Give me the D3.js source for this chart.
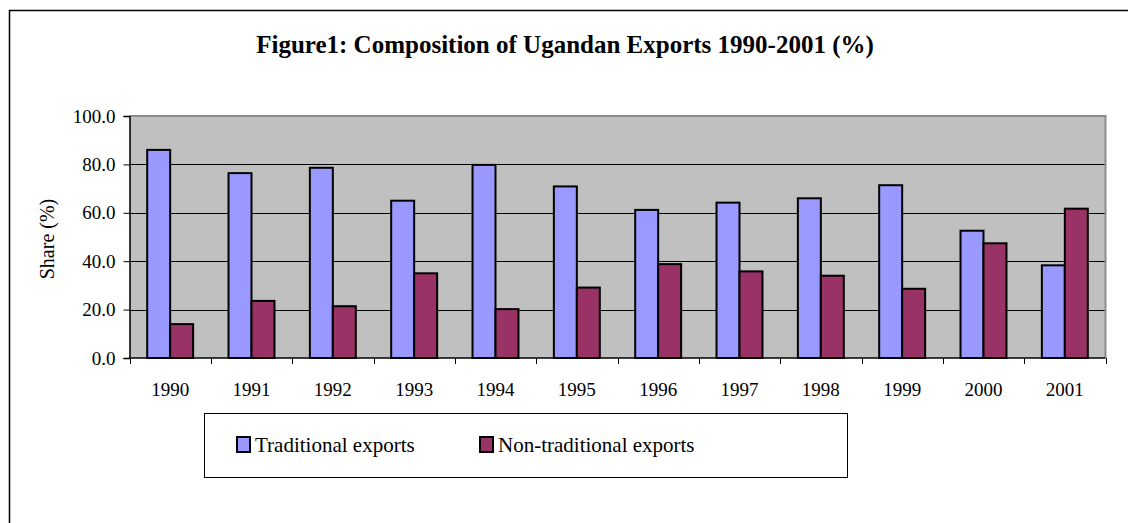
<!DOCTYPE html>
<html>
<head>
<meta charset="utf-8">
<script src="https://cdn.jsdelivr.net/npm/d3@7"></script>
<style>
  body { margin: 0; background: #fff; }
  svg text { font-family: 'Liberation Serif', 'DejaVu Serif', serif; fill: #000; }
</style>
</head>
<body>
<div id="chart"></div>
<script>
const years = ['1990', '1991', '1992', '1993', '1994', '1995', '1996', '1997', '1998', '1999', '2000', '2001']
const traditional = [86.0, 76.4, 78.6, 65.0, 79.8, 70.9, 61.2, 64.2, 66.0, 71.4, 52.6, 38.3]
const nonTraditional = [14.0, 23.6, 21.4, 35.0, 20.2, 29.1, 38.8, 35.8, 34.0, 28.6, 47.4, 61.7]
const seriesNames = ['Traditional exports', 'Non-traditional exports']
const seriesColors = ['#9999ff', '#993366']
const yTicks = [0, 20, 40, 60, 80, 100]

const W = 1128
const H = 523
const plot = { left: 129.5, right: 1105.5, top: 116, bottom: 358 }
const serif = "'Liberation Serif', 'DejaVu Serif', serif"

const svg = d3
  .select('#chart')
  .append('svg')
  .attr('width', W)
  .attr('height', H)

// outer chart border (right and bottom run off the page)
svg
  .append('rect')
  .attr('x', 9.5)
  .attr('y', 10.5)
  .attr('width', 1140)
  .attr('height', 520)
  .attr('fill', 'none')
  .attr('stroke', '#000')
  .attr('stroke-width', 1.5)

svg
  .append('text')
  .attr('x', 565)
  .attr('y', 53)
  .attr('text-anchor', 'middle')
  .style('font-size', '25px')
  .style('font-weight', 'bold')
  .text('Figure1: Composition of Ugandan Exports 1990-2001 (%)')

const x0 = d3.scaleBand().domain(years).range([plot.left, plot.right])
const x1 = d3
  .scaleBand()
  .domain([0, 1])
  .range([0, x0.bandwidth()])
  .paddingInner(0)
  .paddingOuter(0.77)
const y = d3.scaleLinear().domain([0, 100]).range([plot.bottom, plot.top])

// plot background
svg
  .append('rect')
  .attr('x', plot.left)
  .attr('y', plot.top)
  .attr('width', plot.right - plot.left)
  .attr('height', plot.bottom - plot.top)
  .attr('fill', '#c0c0c0')

// gridlines
svg
  .append('g')
  .selectAll('line')
  .data(yTicks.filter(d => d > 0 && d < 100))
  .enter()
  .append('line')
  .attr('x1', plot.left)
  .attr('x2', plot.right)
  .attr('y1', d => Math.round(y(d)) + 0.5)
  .attr('y2', d => Math.round(y(d)) + 0.5)
  .attr('stroke', '#000')
  .attr('stroke-width', 1)

// gray frame on top and right
svg
  .append('path')
  .attr('d', `M${plot.left},${plot.top}H${plot.right}V${plot.bottom}`)
  .attr('fill', 'none')
  .attr('stroke', '#8c8c8c')
  .attr('stroke-width', 2)

const rows = years.map((yr, i) => ({ year: yr, values: [traditional[i], nonTraditional[i]] }))

svg
  .append('g')
  .selectAll('g')
  .data(rows)
  .enter()
  .append('g')
  .attr('transform', d => `translate(${x0(d.year)},0)`)
  .selectAll('rect')
  .data(d => d.values.map((v, k) => ({ k, v })))
  .enter()
  .append('rect')
  .attr('x', d => x1(d.k))
  .attr('y', d => y(d.v))
  .attr('width', x1.bandwidth())
  .attr('height', d => y(0) - y(d.v))
  .attr('fill', d => seriesColors[d.k])
  .attr('stroke', '#000')
  .attr('stroke-width', 2)

// y axis
const yAxis = d3
  .axisLeft(y)
  .tickValues(yTicks)
  .tickSize(6)
  .tickPadding(8)
  .tickFormat(d3.format('.1f'))

svg
  .append('g')
  .attr('class', 'y-axis')
  .attr('transform', `translate(${plot.left},0)`)
  .call(yAxis)
  .attr('font-family', serif)
  .attr('font-size', 19)
  .call(g => g.selectAll('text').style('font-size', '19px'))
  .call(g => g.select('.domain').attr('stroke', '#000').attr('stroke-width', 1.5))

// x axis: ticks on the category boundaries
svg
  .append('line')
  .attr('x1', plot.left)
  .attr('x2', plot.right)
  .attr('y1', plot.bottom)
  .attr('y2', plot.bottom)
  .attr('stroke', '#000')
  .attr('stroke-width', 1.5)

svg
  .append('g')
  .selectAll('line')
  .data(years.concat(['end']))
  .enter()
  .append('line')
  .attr('x1', (d, i) => Math.round(plot.left + i * x0.step()) + 0.5)
  .attr('x2', (d, i) => Math.round(plot.left + i * x0.step()) + 0.5)
  .attr('y1', plot.bottom)
  .attr('y2', plot.bottom + 6)
  .attr('stroke', '#000')

svg
  .append('g')
  .selectAll('text')
  .data(years)
  .enter()
  .append('text')
  .attr('x', d => x0(d) + x0.bandwidth() / 2)
  .attr('y', 396)
  .attr('text-anchor', 'middle')
  .style('font-size', '19px')
  .text(d => d)

svg
  .append('text')
  .attr('transform', 'translate(54,239) rotate(-90)')
  .attr('text-anchor', 'middle')
  .style('font-size', '20px')
  .text('Share (%)')

// legend
const legend = svg.append('g')
legend
  .append('rect')
  .attr('x', 204.5)
  .attr('y', 413.5)
  .attr('width', 643)
  .attr('height', 64)
  .attr('fill', '#fff')
  .attr('stroke', '#000')
  .attr('stroke-width', 1)

const legendX = [237, 480]
const items = legend
  .selectAll('g.item')
  .data(seriesNames)
  .enter()
  .append('g')
  .attr('class', 'item')
  .attr('transform', (d, i) => `translate(${legendX[i]},437)`)

items
  .append('rect')
  .attr('width', 13)
  .attr('height', 15)
  .attr('fill', (d, i) => seriesColors[i])
  .attr('stroke', '#000')
  .attr('stroke-width', 2)

items
  .append('text')
  .attr('x', 18)
  .attr('y', 15)
  .style('font-size', '21px')
  .text(d => d)
</script>
</body>
</html>
